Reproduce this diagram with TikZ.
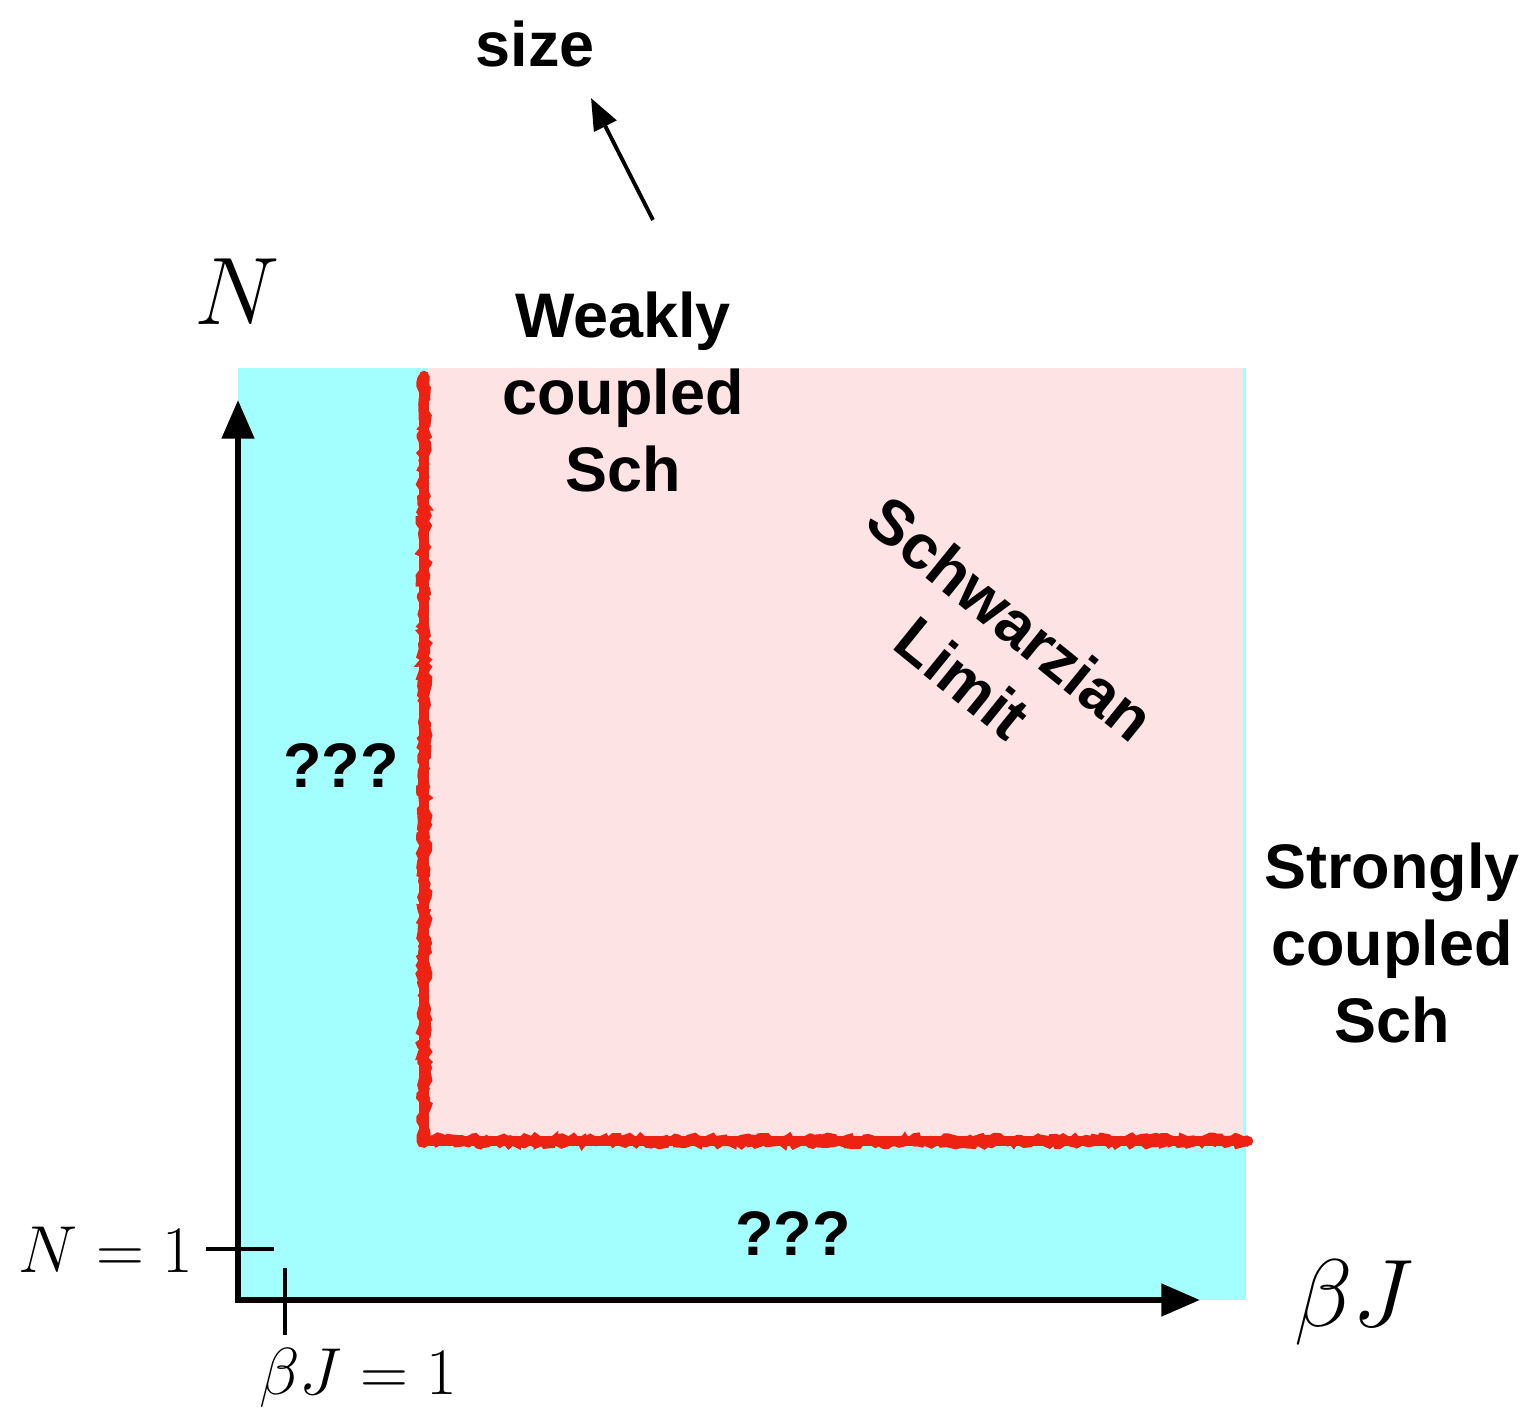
\RequirePackage{fix-cm}
\documentclass[tikz,border=0pt]{standalone}
\usepackage{fontspec}
\setsansfont{Liberation Sans}
\usetikzlibrary{arrows.meta,decorations.pathmorphing}
\definecolor{cyanreg}{RGB}{163,255,254}
\definecolor{pinkreg}{RGB}{254,227,228}
\definecolor{redline}{RGB}{238,34,18}
\tikzset{
  lbl/.style={font=\sffamily\bfseries\fontsize{17.9}{21.8}\selectfont, align=center, inner sep=0pt},
  mathbig/.style={font=\fontsize{27.3}{32}\selectfont, inner sep=0pt},
  mathsmall/.style={font=\fontsize{18.9}{22}\selectfont, inner sep=0pt},
  axis/.style={line width=1.7pt, -{Triangle[length=11pt,width=9pt]}},
  tick/.style={line width=1.2pt},
  border/.style={redline, line width=3pt, line cap=round, line join=round},
  rough/.style={redline, line width=1pt, decorate, decoration={random steps, segment length=1.2pt, amplitude=0.8pt}},
}
\begin{document}
\begin{tikzpicture}[x=0.01cm,y=-0.01cm]
\useasboundingbox (0,0) rectangle (1529,1415);
% regions
\fill[cyanreg] (238,368) rectangle (1246,1300);
\fill[pinkreg] (428,368) rectangle (1243,1143);
% red border
\coordinate (rtop) at (424,376);
\coordinate (rcorner) at (424,1141);
\coordinate (rend) at (1248,1141);
\draw[border] (rtop) -- (rcorner) -- (rend);
\draw[rough] (420,376) -- (420,1145) -- (1248,1145);
\draw[rough] (428,376) -- (428,1137) -- (1248,1137);
% axes
\coordinate (origin) at (238,1300);
\coordinate (ytip) at (238,400);
\coordinate (xtip) at (1200,1300);
\draw[axis] (origin) -- (ytip);
\draw[axis] (origin) -- (xtip);
\coordinate (origin2) at (235,1300);
\draw[line width=1.7pt] (origin2) -- (origin);
% ticks
\coordinate (nt1) at (206,1249);
\coordinate (nt2) at (274,1249);
\draw[tick] (nt1) -- (nt2);
\coordinate (bt1) at (285,1268);
\coordinate (bt2) at (285,1335);
\draw[tick] (bt1) -- (bt2);
% axis labels
\node[mathsmall] (N1) at (106,1250) {$N=1$};
\node[mathsmall] (bJ1) at (358,1378) {$\beta J=1$};
\node[mathbig] (Nlab) at (237,292) {$N$};
\node[mathbig] (bJlab) at (1354,1302) {$\beta J$};
% texts
\node[lbl] (size) at (535,44) {size};
\node[lbl] (weak) at (623,392) {Weakly\\coupled\\Sch};
\node[lbl] (strong) at (1392,943) {Strongly\\coupled\\Sch};
\node[lbl] (q1) at (341,766) {???};
\node[lbl] (q2) at (793,1234) {???};
\node[lbl, rotate=-39] (schw) at (987,648) {Schwarzian\\Limit};
% size arrow
\coordinate (sa) at (653,220);
\coordinate (sb) at (591,98);
\draw[line width=1.1pt, -{Triangle[length=9pt,width=7pt]}] (sa) -- (sb);
\end{tikzpicture}
\end{document}
